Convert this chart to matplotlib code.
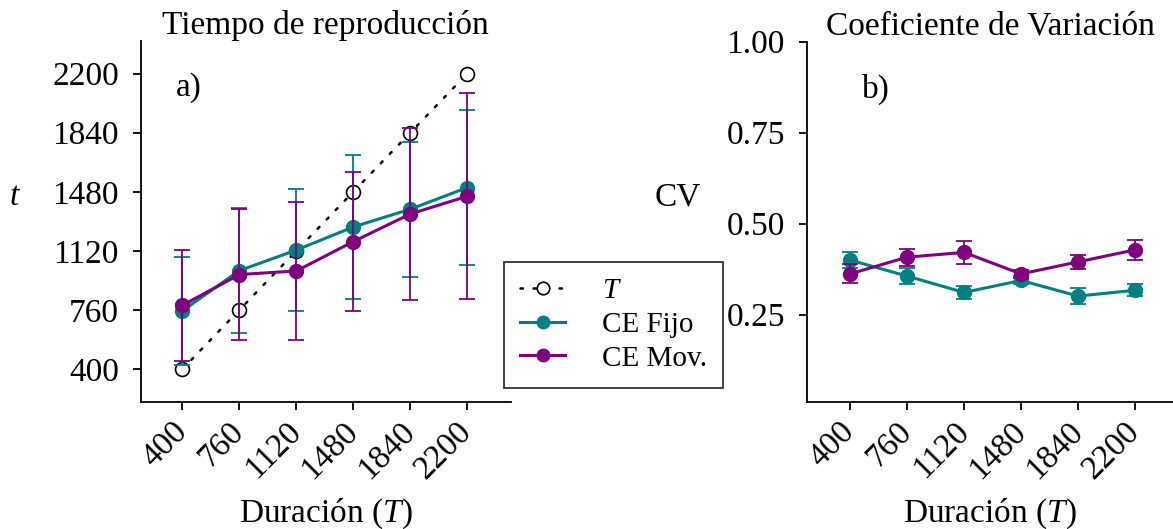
import numpy as np
import matplotlib
matplotlib.use("Agg")
import matplotlib.pyplot as plt
from matplotlib.lines import Line2D

plt.rcParams['font.family'] = ['Liberation Serif', 'DejaVu Serif']
plt.rcParams['mathtext.fontset'] = 'custom'
plt.rcParams['mathtext.it'] = 'Liberation Serif:italic'
plt.rcParams['mathtext.rm'] = 'Liberation Serif'

# Duraciones objetivo
duracion = [400, 760, 1120, 1480, 1840, 2200]

# Tiempo de reproduccion (media y desviacion)
fijo_t = [755, 1000, 1125, 1266, 1374, 1506]
fijo_t_sd = [330, 380, 370, 441, 410, 472]
mov_t = [788, 976, 998, 1177, 1345, 1453]
mov_t_sd = [336, 399, 421, 421, 522, 627]

# Coeficiente de variacion (media y error)
fijo_cv = [0.400, 0.356, 0.311, 0.344, 0.301, 0.317]
fijo_cv_err = [0.021, 0.021, 0.019, 0.011, 0.021, 0.016]
mov_cv = [0.362, 0.408, 0.421, 0.362, 0.395, 0.428]
mov_cv_err = [0.026, 0.023, 0.032, 0.010, 0.020, 0.027]

teal = '#008080'
purple = '#800080'
fs = 24

fig = plt.figure(figsize=(11.73, 5.29), dpi=100)
W, H = 1173, 529
ax1 = fig.add_axes([141 / W, 1 - 402 / H, (510.7 - 141) / W, (402 - 40.7) / H])
ax2 = fig.add_axes([807 / W, 1 - 402 / H, (1173 - 807) / W, (402 - 41.7) / H])

dots = (0, (1, 4.2))

# Panel a)
ax1.plot(duracion, duracion, linestyle=dots, color='black', lw=1.8,
         dash_capstyle='round', marker='o', ms=10, mfc='white', mec='black',
         mew=1.2, zorder=2)
ax1.errorbar(duracion, fijo_t, yerr=fijo_t_sd, color=teal, lw=2.2, marker='o',
             ms=10, capsize=6, elinewidth=1.3, capthick=1.3, zorder=3)
ax1.errorbar(duracion, mov_t, yerr=mov_t_sd, color=purple, lw=2.2, marker='o',
             ms=10, capsize=6, elinewidth=1.3, capthick=1.3, zorder=4)
ax1.set_xlim(139, 2474)
ax1.set_ylim(200, 2400)
ax1.set_yticks(duracion)
ax1.set_title('Tiempo de reproducción', fontsize=fs, pad=4)
ax1.text(0.095, 0.869, 'a)', transform=ax1.transAxes, fontsize=fs, va='center')
ax1.set_ylabel('$t$', fontsize=fs, rotation=0, ha='center', va='center')
ax1.yaxis.set_label_coords(-0.341, 0.567)

# Panel b)
ax2.errorbar(duracion, fijo_cv, yerr=fijo_cv_err, color=teal, lw=2.2, marker='o',
             ms=10, capsize=6, elinewidth=1.3, capthick=1.3, zorder=3)
ax2.errorbar(duracion, mov_cv, yerr=mov_cv_err, color=purple, lw=2.2, marker='o',
             ms=10, capsize=6, elinewidth=1.3, capthick=1.3, zorder=4)
ax2.set_xlim(128, 2440)
ax2.set_ylim(0.01, 1.0)
ax2.set_yticks([0.25, 0.50, 0.75, 1.00])
ax2.set_yticklabels(['0.25', '0.50', '0.75', '1.00'])
ax2.set_title('Coeficiente de Variación', fontsize=fs, pad=4)
ax2.text(0.150, 0.869, 'b)', transform=ax2.transAxes, fontsize=fs, va='center')
ax2.set_ylabel('CV', fontsize=fs, rotation=0, ha='center', va='center')
ax2.yaxis.set_label_coords(-0.352, 0.567)

for ax in (ax1, ax2):
    ax.set_xticks(duracion)
    ax.set_xticklabels([str(d) for d in duracion], rotation=45, ha='right',
                       rotation_mode='anchor', va='center')
    ax.set_xlabel('Duración ($T$)', fontsize=fs, labelpad=8)
    ax.spines['top'].set_visible(False)
    ax.spines['right'].set_visible(False)
    for s in ('left', 'bottom'):
        ax.spines[s].set_linewidth(1.3)
    ax.tick_params(axis='both', labelsize=fs, length=6, width=1.3)
    ax.tick_params(axis='y', pad=10)
    ax.tick_params(axis='x', pad=12)

handles = [
    Line2D([], [], linestyle=dots, color='black', lw=1.8, dash_capstyle='round',
           marker='o', ms=9, mfc='white', mec='black', mew=1.2),
    Line2D([], [], color=teal, lw=2.2, marker='o', ms=9),
    Line2D([], [], color=purple, lw=2.2, marker='o', ms=9),
]
leg = fig.legend(handles, ['$T$', 'CE Fijo', 'CE Mov.'], loc='upper left',
                 bbox_to_anchor=(504 / W, 1 - 261.7 / H), fontsize=21,
                 frameon=True, fancybox=False, edgecolor='black',
                 handlelength=1.55, handletextpad=1.26, labelspacing=0.25,
                 borderpad=0.55, borderaxespad=0)
leg.get_frame().set_linewidth(1.3)

fig.savefig('out.png', dpi=100)
